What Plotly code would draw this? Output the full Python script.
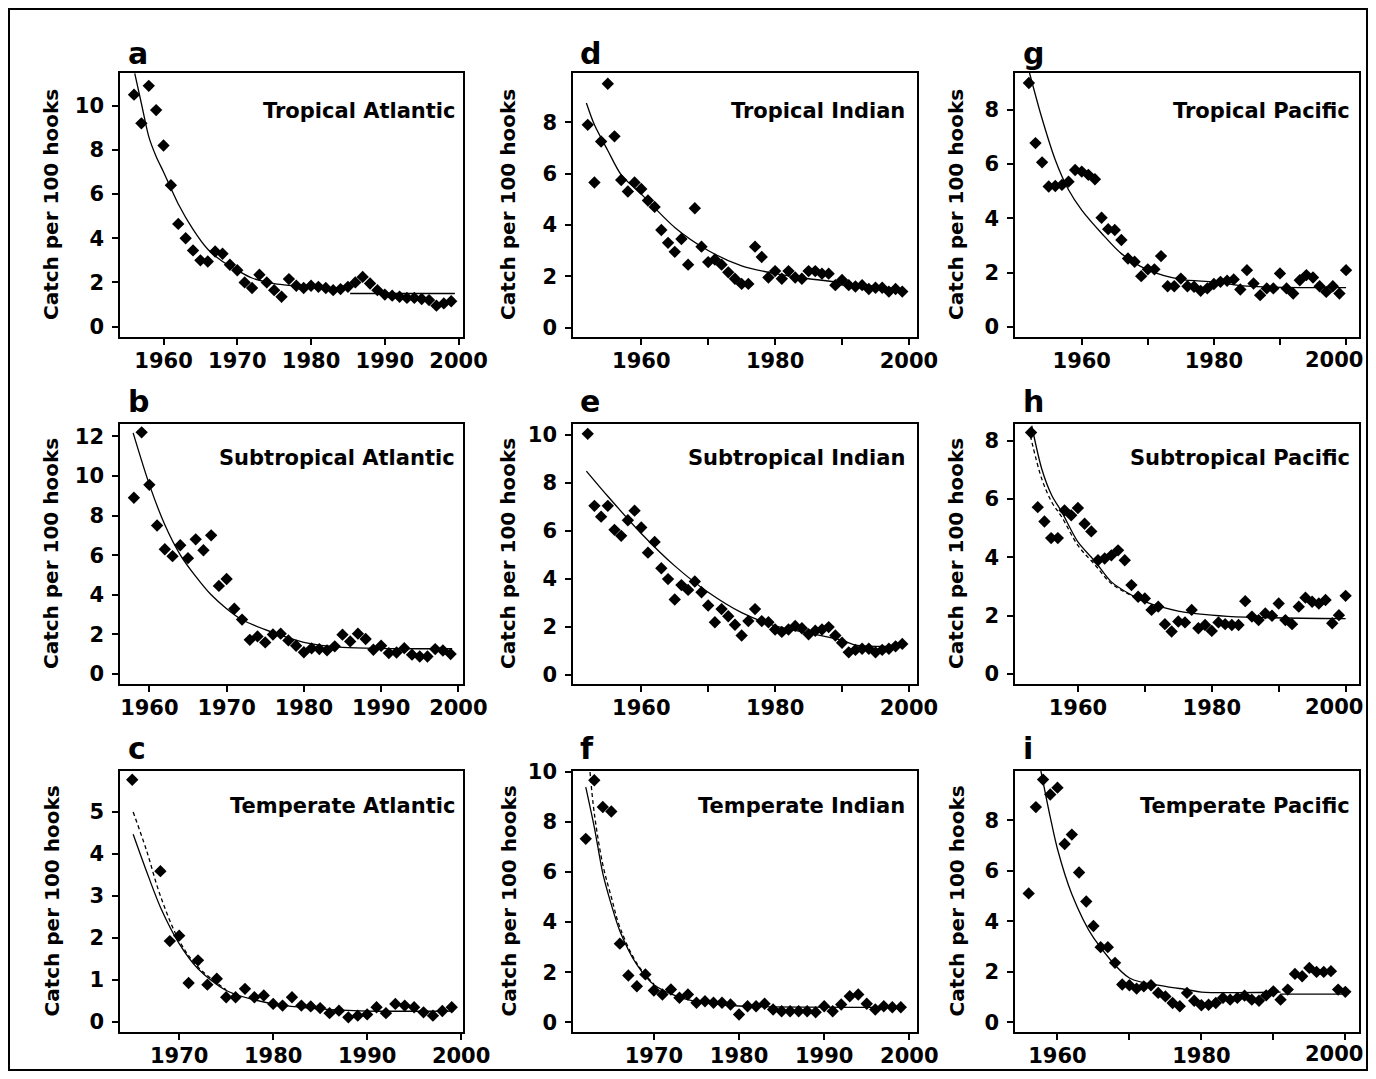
import plotly.graph_objects as go

OFF = 8                      # browser body margin
W, H = 1376 - 2 * OFF, 1079 - 2 * OFF

# ---------------- data ----------------
# a  Tropical Atlantic
years_a = list(range(1956, 2000))
cpue_a = [10.5, 9.2, 10.9, 9.8, 8.2, 6.4, 4.65, 4.0, 3.45, 3.0, 2.95, 3.4, 3.3, 2.8, 2.55,
          2.0, 1.75, 2.35, 2.0, 1.65, 1.35, 2.15, 1.85, 1.75, 1.85, 1.8, 1.75, 1.65, 1.7,
          1.8, 2.0, 2.25, 1.95, 1.65, 1.45, 1.4, 1.35, 1.3, 1.3, 1.25, 1.2, 0.95, 1.05, 1.15]
fit_a_years = [1956.1, 1957, 1958, 1959, 1960, 1962, 1964, 1966, 1968, 1970, 1972, 1975, 1980, 1985.3,
               None, 1985.3, 1999.5]
fit_a = [11.46, 10.1, 8.6, 7.7, 7.0, 5.55, 4.4, 3.5, 2.95, 2.55, 2.2, 1.95, 1.8, 1.75,
         None, 1.5, 1.5]

# b  Subtropical Atlantic
years_b = list(range(1958, 2000))
cpue_b = [8.9, 12.2, 9.55, 7.5, 6.3, 5.95, 6.5, 5.85, 6.8, 6.25, 7.0, 4.45, 4.8, 3.3, 2.75,
          1.73, 1.9, 1.6, 2.0, 2.04, 1.7, 1.43, 1.1, 1.3, 1.26, 1.2, 1.4, 1.99, 1.65, 2.04,
          1.77, 1.23, 1.43, 1.06, 1.09, 1.31, 0.98, 0.89, 0.89, 1.26, 1.19, 1.01]
fit_b_years = [1957.9, 1960, 1962, 1964, 1966, 1968, 1970, 1972, 1976, 1980, 1985, 1999.2]
fit_b = [12.17, 9.56, 7.54, 6.02, 4.93, 4.0, 3.3, 2.74, 2.1, 1.6, 1.35, 1.28]

# c  Temperate Atlantic
years_c = [1965] + list(range(1968, 2000))
cpue_c = [5.77, 3.59, 1.92, 2.05, 0.92, 1.46, 0.88, 1.02, 0.58, 0.58, 0.78, 0.58, 0.62,
          0.42, 0.38, 0.58, 0.38, 0.36, 0.32, 0.2, 0.26, 0.1, 0.14, 0.17, 0.34, 0.2, 0.42,
          0.38, 0.34, 0.22, 0.14, 0.25, 0.34]
fit_c_years = [1965.1, 1966.5, 1968, 1970, 1972, 1975, 1980, 1985, 1990, 1999.2]
fit_c = [4.47, 3.6, 2.73, 1.86, 1.26, 0.74, 0.42, 0.3, 0.25, 0.25]
alt_c_years = [1965.1, 1966.5, 1968, 1970, 1972, 1975]
alt_c = [5.0, 4.1, 3.0, 1.93, 1.3, 0.76]

# d  Tropical Indian
years_d = list(range(1952, 2000))
cpue_d = [7.9, 5.65, 7.25, 9.5, 7.45, 5.75, 5.3, 5.65, 5.4, 4.95, 4.7, 3.8, 3.3, 2.95, 3.45,
          2.45, 4.65, 3.15, 2.55, 2.65, 2.45, 2.15, 1.9, 1.7, 1.7, 3.15, 2.75, 1.95, 2.2,
          1.9, 2.2, 1.95, 1.9, 2.2, 2.2, 2.1, 2.1, 1.65, 1.85, 1.65, 1.6, 1.65, 1.5, 1.55,
          1.55, 1.4, 1.5, 1.4]
fit_d_years = [1951.8, 1953, 1955, 1957, 1960, 1965, 1970, 1975, 1980, 1985, 1990, 1995, 1999.5]
fit_d = [8.75, 7.9, 6.9, 5.95, 5.2, 3.9, 3.0, 2.4, 2.1, 1.9, 1.75, 1.6, 1.45]

# e  Subtropical Indian
years_e = list(range(1952, 2000))
cpue_e = [10.05, 7.05, 6.6, 7.05, 6.05, 5.8, 6.45, 6.85, 6.15, 5.1, 5.55, 4.45, 4.0, 3.15,
          3.75, 3.55, 3.9, 3.45, 2.9, 2.2, 2.75, 2.45, 2.1, 1.65, 2.25, 2.75, 2.25, 2.2,
          1.9, 1.8, 1.9, 2.05, 1.95, 1.7, 1.85, 1.9, 2.0, 1.65, 1.35, 0.95, 1.05, 1.1, 1.1,
          0.95, 1.05, 1.1, 1.2, 1.3]
fit_e_years = [1951.8, 1955, 1960, 1965, 1970, 1975, 1980, 1985, 1990, 1992, 1999.3]
fit_e = [8.5, 7.45, 5.9, 4.55, 3.45, 2.6, 2.05, 1.75, 1.45, 1.25, 1.2]

# f  Temperate Indian
years_f = list(range(1962, 2000))
cpue_f = [7.33, 9.67, 8.6, 8.42, 3.14, 1.87, 1.44, 1.91, 1.27, 1.11, 1.31, 0.98, 1.11, 0.78,
          0.84, 0.78, 0.78, 0.71, 0.31, 0.64, 0.64, 0.74, 0.51, 0.44, 0.44, 0.44, 0.44, 0.4,
          0.64, 0.44, 0.71, 1.04, 1.11, 0.74, 0.51, 0.64, 0.6, 0.6]
fit_f_years = [1962.0, 1963, 1964, 1965, 1966, 1968, 1970, 1973, 1975, 1980, 1999.3]
fit_f = [9.4, 7.8, 5.95, 4.7, 3.65, 2.3, 1.5, 1.0, 0.82, 0.65, 0.6]
alt_f_years = [1962.5, 1963, 1964, 1965, 1966, 1968, 1970]
alt_f = [10.0, 8.35, 6.3, 5.0, 3.8, 2.35, 1.52]

# g  Tropical Pacific
years_g = list(range(1952, 2001))
cpue_g = [8.98, 6.77, 6.06, 5.17, 5.19, 5.23, 5.35, 5.78, 5.72, 5.6, 5.44, 4.02, 3.6, 3.57,
          3.2, 2.52, 2.4, 1.87, 2.12, 2.12, 2.61, 1.5, 1.5, 1.78, 1.5, 1.48, 1.33, 1.42, 1.58,
          1.66, 1.7, 1.75, 1.38, 2.09, 1.6, 1.17, 1.42, 1.42, 1.97, 1.42, 1.23, 1.72, 1.91,
          1.82, 1.5, 1.29, 1.5, 1.23, 2.09]
fit_g_years = [1952.1, 1953.9, 1956, 1958, 1960, 1963, 1966, 1970, 1975, 1980, 1985, 2000]
fit_g = [9.35, 7.75, 6.15, 5.05, 4.3, 3.45, 2.7, 2.1, 1.75, 1.66, 1.5, 1.45]

# h  Subtropical Pacific
years_h = list(range(1953, 2001))
cpue_h = [8.28, 5.72, 5.23, 4.66, 4.66, 5.61, 5.44, 5.69, 5.15, 4.89, 3.9, 3.96, 4.07, 4.24,
          3.9, 3.05, 2.65, 2.59, 2.2, 2.31, 1.71, 1.46, 1.8, 1.77, 2.2, 1.57, 1.68, 1.48,
          1.77, 1.71, 1.68, 1.68, 2.5, 1.97, 1.85, 2.08, 2.0, 2.42, 1.85, 1.71, 2.31, 2.62,
          2.48, 2.42, 2.54, 1.74, 2.02, 2.68]
fit_h_years = [1953.1, 1954.6, 1956.1, 1957.6, 1960, 1962.6, 1965, 1967.6, 1970, 1975, 1980, 1985, 2000]
fit_h = [8.51, 7.03, 6.12, 5.55, 4.53, 3.85, 3.16, 2.76, 2.48, 2.16, 2.02, 1.95, 1.9]
alt_h_years = [1952.9, 1954.6, 1956.1, 1957.6, 1960, 1962.6, 1965, 1967.6, 1970]
alt_h = [8.17, 6.69, 5.89, 5.38, 4.41, 3.73, 3.1, 2.74, 2.48]

# i  Temperate Pacific
years_i = list(range(1956, 2001))
cpue_i = [5.11, 8.53, 9.62, 9.03, 9.3, 7.07, 7.44, 5.94, 4.79, 3.82, 2.98, 2.98, 2.36, 1.5,
          1.47, 1.34, 1.43, 1.47, 1.17, 1.03, 0.77, 0.64, 1.17, 0.86, 0.68, 0.7, 0.77, 0.97,
          0.9, 0.97, 1.06, 0.9, 0.86, 1.07, 1.23, 0.9, 1.3, 1.92, 1.83, 2.16, 2.0, 2.0, 2.03,
          1.3, 1.21]
fit_i_years = [1957.7, 1959, 1960, 1962, 1965, 1970, 1975, 1978, 1980, 1991, None, 1991, 2000]
fit_i = [9.96, 8.13, 6.87, 5.08, 3.36, 1.76, 1.43, 1.3, 1.2, 1.2, None, 1.12, 1.12]

ylabel = "Catch per 100 hooks"
edge_label = "2000"      # right-most year label of the Pacific column, kept inside the page

# ---------------- layout geometry (page pixels) ----------------
col_px = [(120, 463), (573, 917), (1015, 1359)]
row_px = [(73, 337), (424, 684), (771, 1032)]
title_right = [457, 907, 1352]
title_y = [111, 458, 806]
letter_left = [126, 578, 1021]
letter_y = [53, 401, 748]
ytitle_x = [51, 508, 956]
xlabel_y = [360, 707, 1054]
edge_label_right = 1365


def px(x):
    return (x - OFF) / W


def py(y):
    return 1 - (y - OFF) / H


panels = [
    dict(letter="a", title="Tropical Atlantic", col=0, row=0, x=years_a, y=cpue_a,
         fx=fit_a_years, fy=fit_a, xr=[1954.1, 2000.6], yr=[-0.47, 11.48],
         xt=[1960, 1970, 1980, 1990, 2000], xl=["1960", "1970", "1980", "1990", "2000"],
         yt=[0, 2, 4, 6, 8, 10]),
    dict(letter="b", title="Subtropical Atlantic", col=0, row=1, x=years_b, y=cpue_b,
         fx=fit_b_years, fy=fit_b, xr=[1956.2, 2000.6], yr=[-0.5, 12.62],
         xt=[1960, 1970, 1980, 1990, 2000], xl=["1960", "1970", "1980", "1990", "2000"],
         yt=[0, 2, 4, 6, 8, 10, 12]),
    dict(letter="c", title="Temperate Atlantic", col=0, row=2, x=years_c, y=cpue_c,
         fx=fit_c_years, fy=fit_c, ax=alt_c_years, ay=alt_c, xr=[1963.7, 2000.2], yr=[-0.25, 5.98],
         xt=[1970, 1980, 1990, 2000], xl=["1970", "1980", "1990", "2000"],
         yt=[0, 1, 2, 3, 4, 5]),
    dict(letter="d", title="Tropical Indian", col=1, row=0, x=years_d, y=cpue_d,
         fx=fit_d_years, fy=fit_d, xr=[1949.8, 2001.2], yr=[-0.37, 9.92],
         xt=[1960, 1970, 1980, 1990, 2000], xl=["1960", "", "1980", "", "2000"],
         yt=[0, 2, 4, 6, 8]),
    dict(letter="e", title="Subtropical Indian", col=1, row=1, x=years_e, y=cpue_e,
         fx=fit_e_years, fy=fit_e, xr=[1949.8, 2001.2], yr=[-0.37, 10.46],
         xt=[1960, 1970, 1980, 1990, 2000], xl=["1960", "", "1980", "", "2000"],
         yt=[0, 2, 4, 6, 8, 10]),
    dict(letter="f", title="Temperate Indian", col=1, row=2, x=years_f, y=cpue_f,
         fx=fit_f_years, fy=fit_f, ax=alt_f_years, ay=alt_f, xr=[1960.5, 2000.9], yr=[-0.39, 10.04],
         xt=[1970, 1980, 1990, 2000], xl=["1970", "1980", "1990", "2000"],
         yt=[0, 2, 4, 6, 8, 10]),
    dict(letter="g", title="Tropical Pacific", col=2, row=0, x=years_g, y=cpue_g,
         fx=fit_g_years, fy=fit_g, xr=[1949.9, 2001.96], yr=[-0.37, 9.35],
         xt=[1960, 1970, 1980, 1990, 2000], xl=["1960", "", "1980", "", ""],
         yt=[0, 2, 4, 6, 8], edge=True),
    dict(letter="h", title="Subtropical Pacific", col=2, row=1, x=years_h, y=cpue_h,
         fx=fit_h_years, fy=fit_h, ax=alt_h_years, ay=alt_h, xr=[1950.6, 2002.0], yr=[-0.34, 8.57],
         xt=[1960, 1970, 1980, 1990, 2000], xl=["1960", "", "1980", "", ""],
         yt=[0, 2, 4, 6, 8], edge=True),
    dict(letter="i", title="Temperate Pacific", col=2, row=2, x=years_i, y=cpue_i,
         fx=fit_i_years, fy=fit_i, xr=[1954.1, 2001.9], yr=[-0.38, 9.96],
         xt=[1960, 1970, 1980, 1990, 2000], xl=["1960", "", "1980", "", ""],
         yt=[0, 2, 4, 6, 8], edge=True),
]

FONT = "DejaVu Sans"
tickfont = dict(family=FONT, size=21, color="black", weight="bold")

fig = go.Figure()
layout = dict(
    width=W, height=H, margin=dict(l=0, r=0, t=0, b=0, pad=0), autosize=False,
    paper_bgcolor="white", plot_bgcolor="white", showlegend=False,
)
annotations = []

for k, p in enumerate(panels, start=1):
    xa = "x" if k == 1 else f"x{k}"
    ya = "y" if k == 1 else f"y{k}"
    c0, c1 = col_px[p["col"]]
    r0, r1 = row_px[p["row"]]
    common = dict(showline=True, mirror=True, linecolor="black", linewidth=1.5,
                  ticks="outside", tickcolor="black", tickwidth=1.5, ticklen=6,
                  showgrid=False, zeroline=False, tickfont=tickfont, fixedrange=True,
                  automargin=False, ticklabeloverflow="allow")
    layout["xaxis" if k == 1 else f"xaxis{k}"] = dict(
        domain=[px(c0), px(c1)], range=p["xr"], anchor=ya,
        tickmode="array", tickvals=p["xt"], ticktext=p["xl"], ticklabelstandoff=-2, **common)
    layout["yaxis" if k == 1 else f"yaxis{k}"] = dict(
        domain=[py(r1), py(r0)], range=p["yr"], anchor=xa,
        tickmode="array", tickvals=p["yt"], ticktext=[str(v) for v in p["yt"]],
        ticklabelstandoff=4, **common)

    if "ax" in p:
        fig.add_trace(go.Scatter(x=p["ax"], y=p["ay"], mode="lines", xaxis=xa, yaxis=ya,
                                 line=dict(color="black", width=1.3, dash="4px,3px", shape="spline"),
                                 hoverinfo="skip"))
    fig.add_trace(go.Scatter(x=p["fx"], y=p["fy"], mode="lines", xaxis=xa, yaxis=ya,
                             connectgaps=False,
                             line=dict(color="black", width=1.3, shape="spline", smoothing=0.8),
                             hoverinfo="skip"))
    fig.add_trace(go.Scatter(x=p["x"], y=p["y"], mode="markers", xaxis=xa, yaxis=ya,
                             marker=dict(symbol="diamond", size=9.5, color="black",
                                         line=dict(width=0))))

    annotations.append(dict(text=p["letter"], xref="paper", yref="paper",
                            x=px(letter_left[p["col"]]), y=py(letter_y[p["row"]]),
                            xanchor="left", yanchor="middle", showarrow=False,
                            font=dict(family=FONT, size=30, color="black", weight="bold")))
    annotations.append(dict(text=p["title"], xref="paper", yref="paper",
                            x=px(title_right[p["col"]]), y=py(title_y[p["row"]]),
                            xanchor="right", yanchor="middle", showarrow=False,
                            font=dict(family=FONT, size=21, color="black", weight="bold")))
    annotations.append(dict(text=ylabel, xref="paper", yref="paper", textangle=-90,
                            x=px(ytitle_x[p["col"]]), y=py((r0 + r1) / 2),
                            xanchor="center", yanchor="middle", showarrow=False,
                            font=dict(family=FONT, size=20, color="black", weight="bold")))
    if p.get("edge"):
        annotations.append(dict(text=edge_label, xref="paper", yref="paper",
                                x=px(edge_label_right), y=py(xlabel_y[p["row"]]),
                                xanchor="right", yanchor="middle", showarrow=False,
                                font=tickfont))

layout["annotations"] = annotations
layout["shapes"] = [dict(type="rect", xref="paper", yref="paper",
                         x0=px(9), x1=px(1367), y0=py(1070), y1=py(9),
                         line=dict(color="black", width=2), fillcolor="rgba(0,0,0,0)")]
fig.update_layout(**layout)
fig.write_html("out.html")
